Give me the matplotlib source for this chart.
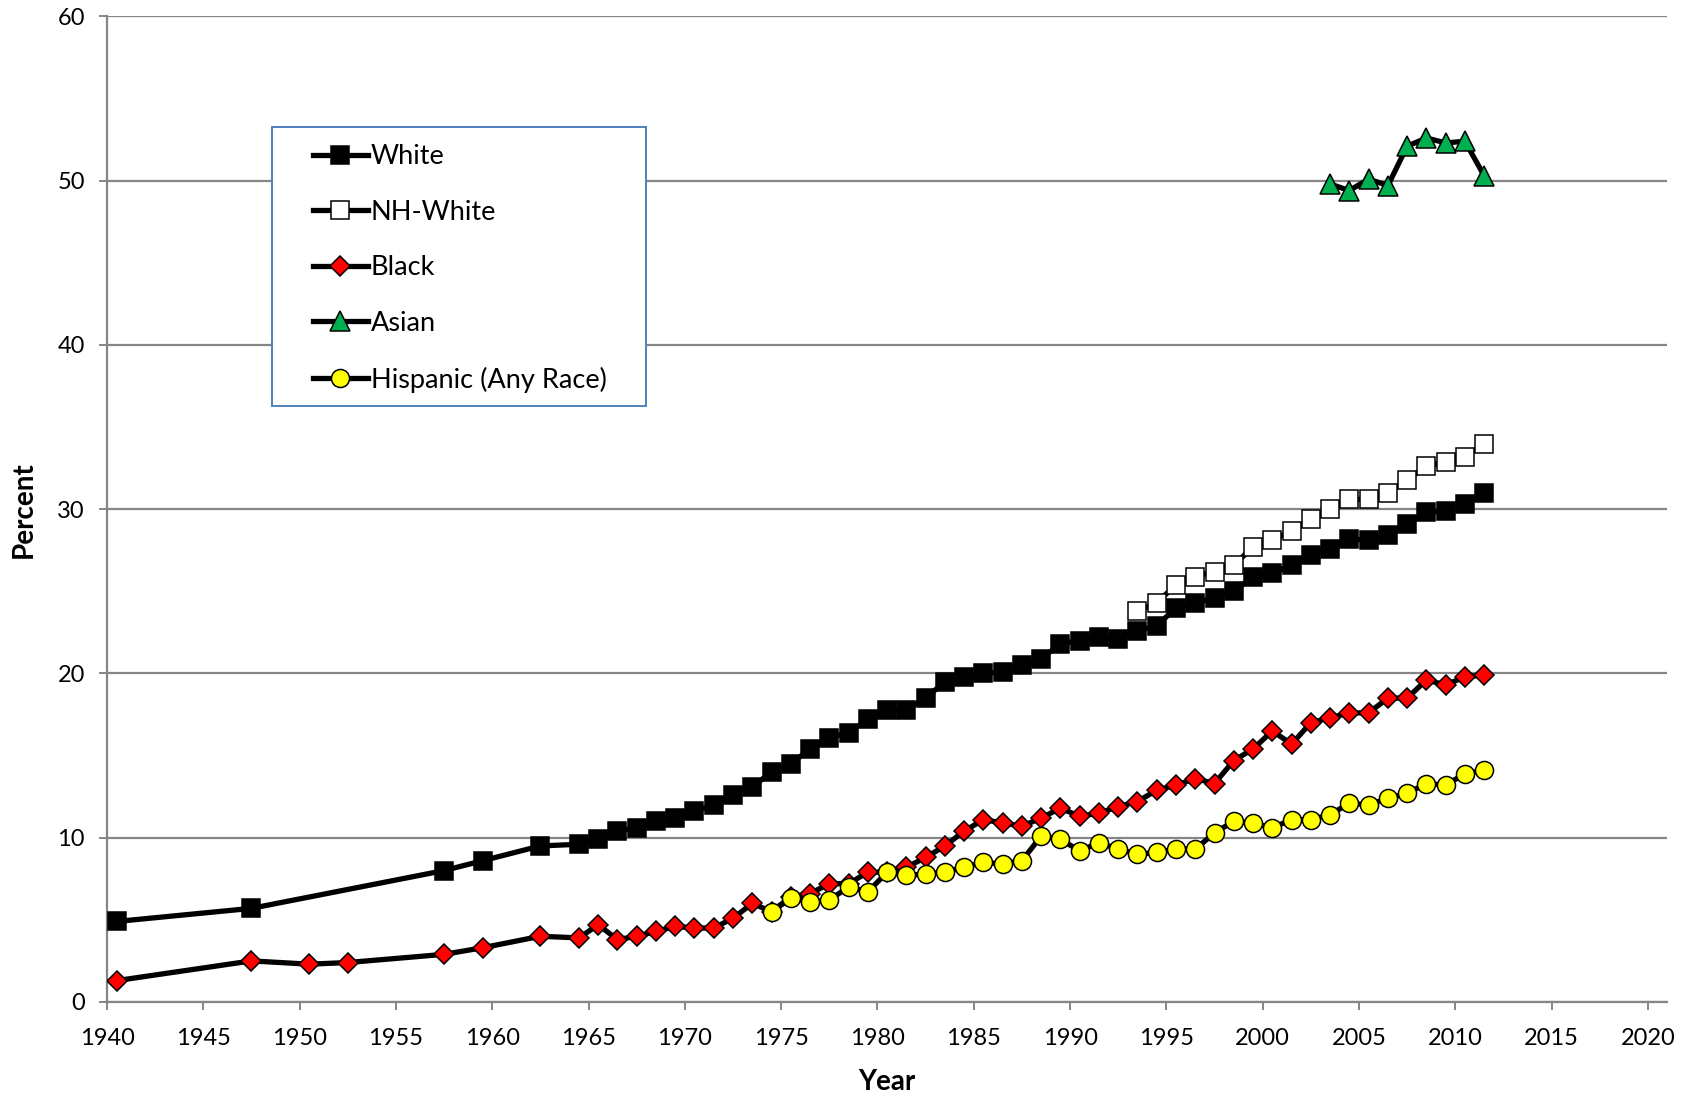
import numpy as np
import matplotlib.pyplot as plt
from matplotlib.lines import Line2D
from matplotlib.patches import Rectangle
from matplotlib.legend_handler import HandlerLine2D

# ---------- Data: percent of adults 25+ with 4+ years of college ----------
white_years = [1940, 1947, 1957, 1959, 1962] + list(range(1964, 2012))
white_pct = [4.9, 5.7, 8.0, 8.6, 9.5,
             9.6, 9.9, 10.4, 10.6, 11.0, 11.2, 11.6, 12.0, 12.6, 13.1,
             14.0, 14.5, 15.4, 16.1, 16.4, 17.2, 17.8, 17.8, 18.5, 19.5,
             19.8, 20.0, 20.1, 20.5, 20.9, 21.8, 22.0, 22.2, 22.1, 22.6,
             22.9, 24.0, 24.3, 24.6, 25.0, 25.9, 26.1, 26.6, 27.2, 27.6,
             28.2, 28.1, 28.4, 29.1, 29.8, 29.9, 30.3, 31.0]

nhwhite_years = list(range(1993, 2012))
nhwhite_pct = [23.8, 24.3, 25.4, 25.9, 26.2, 26.6, 27.7, 28.1, 28.7, 29.4,
               30.0, 30.6, 30.6, 31.0, 31.8, 32.6, 32.9, 33.2, 34.0]

black_years = [1940, 1947, 1950, 1952, 1957, 1959, 1962] + list(range(1964, 2012))
black_pct = [1.3, 2.5, 2.3, 2.4, 2.9, 3.3, 4.0,
             3.9, 4.7, 3.8, 4.0, 4.3, 4.6, 4.5, 4.5, 5.1, 6.0,
             5.5, 6.4, 6.6, 7.2, 7.2, 7.9, 7.9, 8.2, 8.8, 9.5,
             10.4, 11.1, 10.9, 10.7, 11.2, 11.8, 11.3, 11.5, 11.9, 12.2,
             12.9, 13.2, 13.6, 13.3, 14.7, 15.4, 16.5, 15.7, 17.0, 17.3,
             17.6, 17.6, 18.5, 18.5, 19.6, 19.3, 19.8, 19.9]

asian_years = list(range(2003, 2012))
asian_pct = [49.8, 49.4, 50.1, 49.7, 52.1, 52.6, 52.3, 52.4, 50.3]

hispanic_years = list(range(1974, 2012))
hispanic_pct = [5.5, 6.3, 6.1, 6.2, 7.0, 6.7, 7.9, 7.7, 7.8, 7.9,
                8.2, 8.5, 8.4, 8.6, 10.1, 9.9, 9.2, 9.7, 9.3, 9.0,
                9.1, 9.3, 9.3, 10.3, 11.0, 10.9, 10.6, 11.1, 11.1, 11.4,
                12.1, 12.0, 12.4, 12.7, 13.3, 13.2, 13.9, 14.1]

x_ticks = list(range(1940, 2021, 5))
y_ticks = list(range(0, 61, 10))

# ---------- Styling ----------
plt.rcParams.update({
    "font.family": ["Lato", "DejaVu Sans"],
    "font.size": 17,
})

GRID = "#868686"

series = [
    ("White",               white_years,    white_pct,    "s", "black",   13.5),
    ("NH-White",            nhwhite_years,  nhwhite_pct,  "s", "white",   13.5),
    ("Black",               black_years,    black_pct,    "D", "#ff0000", 10.0),
    ("Asian",               asian_years,    asian_pct,    "^", "#00b050", 14.5),
    ("Hispanic (Any Race)", hispanic_years, hispanic_pct, "o", "#ffff00", 13.0),
]

fig = plt.figure(figsize=(16.96, 10.96), dpi=100)
ax = fig.add_axes([0.0631, 0.0858, 0.9199, 0.8992])

handles = []
for label, yrs, vals, mk, fc, ms in series:
    # survey estimates are mid-year, so shift half a year right of the tick
    xs = np.array(yrs) + 0.5
    ax.plot(xs, vals, color="black", linewidth=3.8, marker=mk,
            markersize=ms, markerfacecolor=fc, markeredgecolor="black",
            markeredgewidth=1.1, zorder=3)
    handles.append(Line2D([], [], color="black", linewidth=3.8, marker=mk,
                          markersize=ms, markerfacecolor=fc,
                          markeredgecolor="black", markeredgewidth=1.1,
                          label=label))

# ---------- Axes ----------
ax.set_xlim(1940, 2021)
ax.set_ylim(0, 60)
ax.set_xticks(x_ticks)
ax.set_yticks(y_ticks)
ax.grid(True, axis="y", color=GRID, linewidth=1.6, zorder=0)
ax.set_axisbelow(True)

for side in ("top", "right"):
    ax.spines[side].set_visible(False)
for side in ("left", "bottom"):
    ax.spines[side].set_color(GRID)
    ax.spines[side].set_linewidth(1.6)

ax.tick_params(axis="both", direction="out", length=6, width=1.4,
               color=GRID, labelsize=17)
ax.tick_params(axis="x", pad=13)
ax.tick_params(axis="y", pad=10)

ax.set_xlabel("Year", fontsize=20, fontweight="bold", va="center")
ax.set_ylabel("Percent", fontsize=20, fontweight="bold", va="center")
ax.xaxis.set_label_coords(0.5, -0.0815)
ax.yaxis.set_label_coords(-0.0533, 0.5)

# ---------- Legend: fixed-size box with the entries inside ----------
box = Rectangle((0.1058, 0.6048), 0.3455 - 0.1058, 0.888 - 0.6048,
                transform=ax.transAxes, facecolor="white",
                edgecolor="#4f81bd", linewidth=1.4, zorder=4)
ax.add_patch(box)

leg = ax.legend(handles=handles, loc="upper left",
                bbox_to_anchor=(0.1318, 0.8705), borderaxespad=0,
                borderpad=0, fontsize=19.5, frameon=False,
                handlelength=2.05, handletextpad=0.1, labelspacing=1.13,
                handler_map={Line2D: HandlerLine2D(numpoints=1)})
leg.set_zorder(5)

fig.savefig("out.png", dpi=100)
